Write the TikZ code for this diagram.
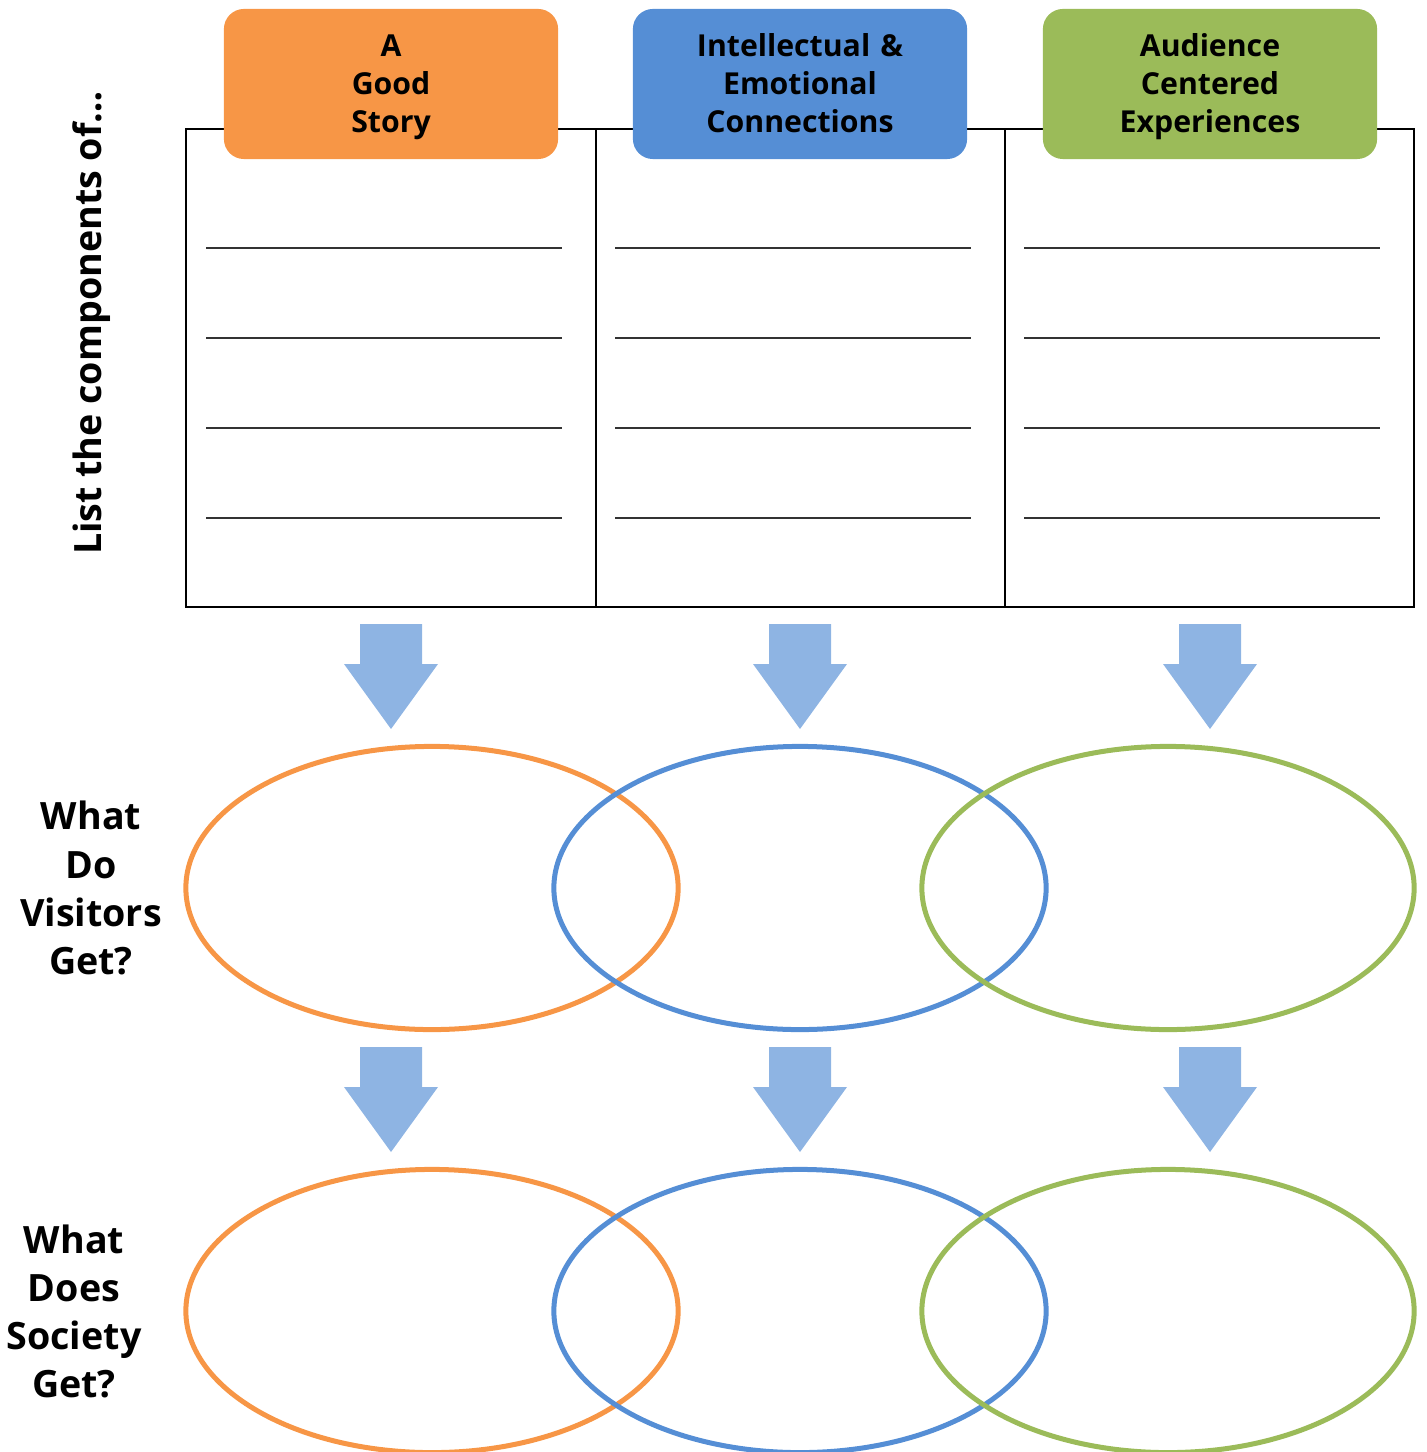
\documentclass[tikz,border=0pt]{standalone}
\usepackage{fontspec}
\setmainfont{Open Sans}
\usetikzlibrary{shapes.geometric}
\definecolor{storyorange}{HTML}{F79646}
\definecolor{linkblue}{HTML}{558ED5}
\definecolor{audgreen}{HTML}{9BBB59}
\definecolor{arrowblue}{HTML}{8EB4E3}
% block arrow pointing down: centre x, top y
\newcommand{\downblock}[2]{%
  \fill[arrowblue] (#1-31,#2) -- (#1+31,#2) -- (#1+31,#2+40) -- (#1+47,#2+40)
    -- (#1,#2+105) -- (#1-47,#2+40) -- (#1-31,#2+40) -- cycle;}
\begin{document}
\begin{tikzpicture}
	[x=0.01cm,y=-0.01cm,
	head/.style={rectangle,rounded corners=0.2cm,minimum width=3.34cm,minimum height=1.5cm,
		text width=3.2cm,align=center,font=\fontsize{8.6}{10.8}\selectfont\bfseries,inner sep=0pt},
	ring/.style={ellipse,draw,line width=0.05cm,minimum width=4.92cm,minimum height=2.83cm,inner sep=0pt},
	side/.style={align=center,font=\fontsize{10.7}{13.66}\selectfont\bfseries},
	blank/.style={line width=0.018cm,black!80}
	]
	\useasboundingbox (0,0) rectangle (1426,1452);

	% table
	\draw[line width=0.022cm] (186,129) rectangle (1414,607);
	\draw[line width=0.022cm] (596,129) -- (596,607);
	\draw[line width=0.022cm] (1005,129) -- (1005,607);
	\foreach \cx in {206,615,1024}
		\foreach \ly in {248,338,428,518}
			\draw[blank] (\cx,\ly) -- ++(356,0);

	% headers
	\node[head,fill=storyorange] (story) at (391,84) {};
	\node[head,fill=linkblue] (link) at (800,84) {};
	\node[head,fill=audgreen] (aud) at (1210,84) {};
	\node[head] (storytext) at (391,87) {\strut A\\Good\\Story\strut};
	\node[head] (linktext) at (800,87) {\strut Intellectual \&\\Emotional\\Connections\strut};
	\node[head] (audtext) at (1210,87) {\strut Audience\\Centered\\Experiences\strut};

	\node[side,rotate=90] (list) at (92,323) {List the components of…};

	% arrows
	\foreach \ax in {391,800,1210}{
		\downblock{\ax}{624}
		\downblock{\ax}{1047}
	}

	% what visitors get
	\node[side] (visitors) at (91,888) {What\\Do\\Visitors\\Get?};
	\node[ring,draw=storyorange] (vstory) at (432,888) {};
	\node[ring,draw=linkblue] (vlink) at (800,888) {};
	\node[ring,draw=audgreen] (vaud) at (1168,888) {};

	% what society gets
	\node[side] (society) at (74,1311) {What\\Does\\Society\\Get?};
	\node[ring,draw=storyorange] (sstory) at (432,1311) {};
	\node[ring,draw=linkblue] (slink) at (800,1311) {};
	\node[ring,draw=audgreen] (saud) at (1168,1311) {};
\end{tikzpicture}
\end{document}
